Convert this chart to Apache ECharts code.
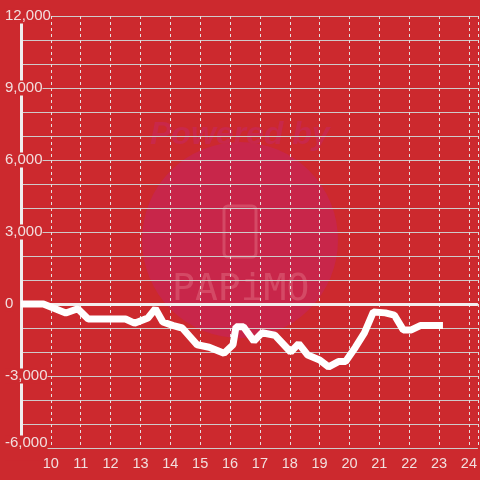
<!DOCTYPE html>
<html>
<head>
<meta charset="utf-8">
<script src="https://cdn.jsdelivr.net/npm/echarts@6/dist/echarts.min.js"></script>
<style>html,body{margin:0;padding:0;background:#cc292e;}#c{width:480px;height:480px;}</style>
</head>
<body>
<div id="c"></div>
<script>
var hours = [9, 9.75, 10.5, 10.9, 11.25, 12.5, 12.8, 13.25, 13.5, 13.75, 14.1, 14.4, 14.9, 15.3, 15.8, 16.1, 16.2, 16.45, 16.8, 17.07, 17.5, 18.03, 18.3, 18.6, 19.0, 19.3, 19.63, 19.87, 20.2, 20.5, 20.8, 21.2, 21.5, 21.8, 22.07, 22.37, 23.13];
var values = [0, 0, -375, -200, -625, -625, -800, -580, -200, -750, -900, -1000, -1700, -1800, -2050, -1700, -950, -950, -1550, -1200, -1300, -2000, -1650, -2125, -2330, -2620, -2400, -2400, -1800, -1200, -330, -370, -460, -1080, -1080, -900, -900];
var yLabels = [12000, 9000, 6000, 3000, 0, -3000, -6000];
var xLabels = [10, 11, 12, 13, 14, 15, 16, 17, 18, 19, 20, 21, 22, 23, 24];

var BG = '#cc292e';
var TXT = '#f2dede';
var data = hours.map(function (h, i) { return [h, values[i]]; });

var chart = echarts.init(document.getElementById('c'), null, {renderer: 'canvas'});
chart.setOption({
  backgroundColor: BG,
  animation: false,
  grid: {left: 21, right: 0, top: 16, bottom: 32, containLabel: false},
  graphic: [
    {type: 'circle', z: -10, shape: {cx: 240, cy: 240, r: 98}, style: {fill: '#c8264a'}},
    {type: 'text', z: -9, left: 150, top: 119, style: {text: 'Powered by', font: 'italic bold 32px "Liberation Sans"', fill: '#c9284a'}},
    {type: 'rect', z: -9, shape: {x: 224, y: 206, width: 32, height: 51, r: 4}, style: {fill: 'none', stroke: 'rgba(255,200,200,0.22)', lineWidth: 3}},
    {type: 'text', z: -9, left: 172, top: 271, style: {text: 'PAPiMO', font: '38px "DejaVu Sans Mono"', fill: 'rgba(255,200,200,0.22)'}}
  ],
  xAxis: {
    type: 'value', min: 9, max: 24.3, interval: 1,
    axisLine: {show: false, onZero: false},
    axisTick: {show: false},
    axisLabel: {
      color: TXT, fontSize: 14.5, fontFamily: 'Liberation Sans', margin: 8,
      showMaxLabel: false,
      formatter: function (v) { return xLabels.indexOf(v) >= 0 ? String(v) : ''; }
    },
    splitLine: {show: true, lineStyle: {color: '#e6e0e0', type: [3, 3], width: 1}}
  },
  yAxis: {
    type: 'value', min: -6000, max: 12000, interval: 1000,
    axisLine: {show: true, onZero: false, lineStyle: {color: '#f0eeee', width: 3}},
    axisTick: {show: false},
    axisLabel: {
      color: TXT, fontSize: 15, fontFamily: 'Liberation Sans', margin: 16, align: 'left',
      backgroundColor: BG,
      rich: {low: {color: TXT, fontSize: 15, fontFamily: 'Liberation Sans', padding: [0, 0, 10, 0]}},
      formatter: function (v) {
        if (yLabels.indexOf(v) < 0) return '';
        var s = v.toLocaleString('en-US');
        return v === -6000 ? '{low|' + s + '}' : s;
      }
    },
    splitLine: {show: true, lineStyle: {color: '#cfcaca', width: 1}}
  },
  series: [{
    type: 'line', data: data, showSymbol: false, z: 5,
    lineStyle: {color: '#ffffff', width: 7},
    markLine: {
      silent: true, symbol: ['none', 'none'], label: {show: false},
      lineStyle: {color: '#f3eeee', width: 3, type: 'solid'},
      data: [{yAxis: 0}]
    }
  }]
});
</script>
</body>
</html>
